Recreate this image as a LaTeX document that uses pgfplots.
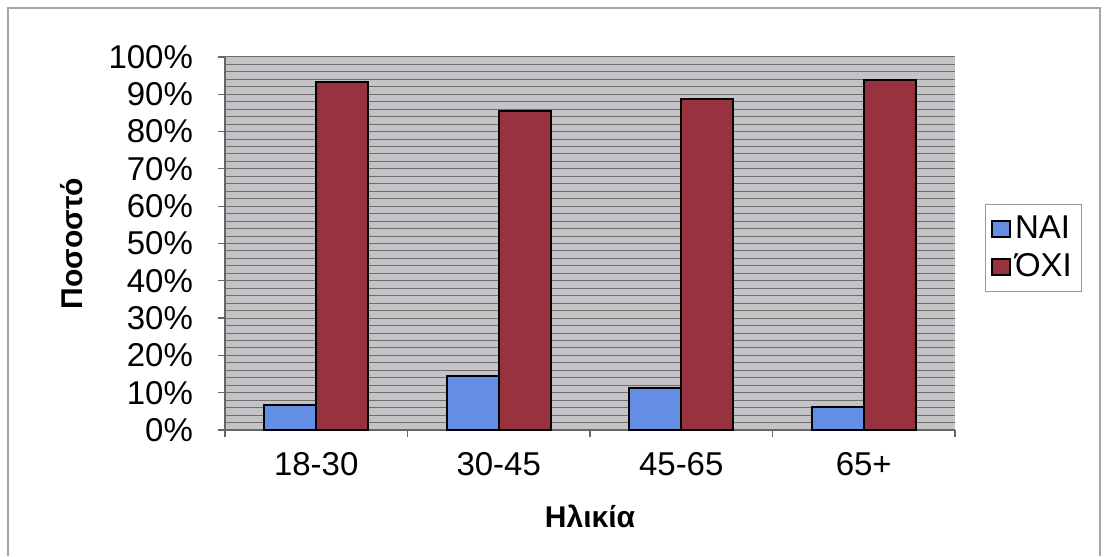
\documentclass[border=0pt]{standalone}
\usepackage{fontspec}
\setmainfont{Liberation Sans}
\usepackage{pgfplots}
\pgfplotsset{compat=1.18}
\definecolor{nai}{RGB}{99,142,228}
\definecolor{oxi}{RGB}{152,50,62}
\definecolor{plotbg}{RGB}{196,196,200}
\definecolor{gridc}{RGB}{112,110,104}
\begin{document}
\begin{tikzpicture}
\useasboundingbox (0,0) rectangle (553pt,278pt);
\fill[white] (0,0) rectangle (553pt,278pt);
\draw[gray!70, line width=0.6pt] (4pt,0pt) -- (4pt,274pt) -- (550pt,274pt) -- (550pt,0pt);
\begin{axis}[
  at={(112.5pt,63pt)}, anchor=south west,
  scale only axis, width=365pt, height=186.5pt,
  ybar=0pt, bar width=0.285,
  xmin=-0.5, xmax=3.5, ymin=0, ymax=100,
  xtick={0,1,2,3},
  xticklabels={18-30,30-45,45-65,65+},
  minor xtick={-0.5,0.5,1.5,2.5,3.5},
  ytick={0,10,20,30,40,50,60,70,80,90,100},
  yticklabels={0\%,10\%,20\%,30\%,40\%,50\%,60\%,70\%,80\%,90\%,100\%},
  minor ytick={2,4,6,8,12,14,16,18,22,24,26,28,32,34,36,38,42,44,46,48,52,54,56,58,62,64,66,68,72,74,76,78,82,84,86,88,92,94,96,98},
  ymajorgrids, yminorgrids,
  grid style={gridc, line width=0.5pt},
  minor grid style={gridc, line width=0.5pt},
  axis background/.style={fill=plotbg},
  axis line style={draw=none},
  axis y line*=left, axis x line*=bottom,
  y axis line style={draw=gray!80!black, line width=0.6pt},
  x axis line style={draw=gray!80!black, line width=0.6pt},
  tick align=outside,
  major tick length=3.5pt, minor tick length=3.5pt,
  x tick style={draw=none},
  minor x tick style={draw=gray!80!black, line width=0.6pt},
  y tick style={draw=gray!80!black, line width=0.6pt},
  minor y tick style={draw=none},
  /pgf/number format/assume math mode=true,
  tick label style={font=\fontsize{16.5}{19}\selectfont},
  yticklabel style={xshift=-9pt},
  xticklabel style={yshift=-4pt},
  xlabel={\textbf{Ηλικία}},
  ylabel={\textbf{Ποσοστό}},
  label style={font=\fontsize{15}{18}\selectfont},
  xlabel style={yshift=-8pt},
  ylabel style={yshift=6pt},
  legend style={at={(1.041,0.488)}, anchor=west, draw=gray!80, line width=0.5pt,
    font=\fontsize{16.5}{22}\selectfont, inner xsep=3pt, inner ysep=4pt,
    row sep=2pt},
  legend cell align=left,
  legend image code/.code={\draw[#1, draw=black, line width=0.8pt] (0pt,-4pt) rectangle (9pt,4pt);},
]
\addplot[fill=nai, draw=black, line width=1.1pt] coordinates {(0,6.7) (1,14.5) (2,11.3) (3,6.2)};
\addplot[fill=oxi, draw=black, line width=1.1pt] coordinates {(0,93.3) (1,85.5) (2,88.7) (3,93.8)};
\legend{ΝΑΙ,ΌΧΙ}
\end{axis}
\end{tikzpicture}
\end{document}
